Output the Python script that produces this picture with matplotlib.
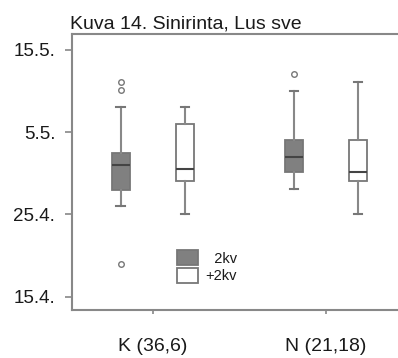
import matplotlib
matplotlib.use("Agg")
import matplotlib.pyplot as plt
from matplotlib.patches import Patch

plt.rcParams["font.family"] = ["Liberation Sans", "DejaVu Sans"]

# saapumispäivät päivinä vuoden alusta (15.4. = 105)
groups = ["K (36,6)", "N (21,18)"]
series = ["2kv", "+2kv"]
day_ticks = [105, 115, 125, 135]
day_labels = ["15.4.", "25.4.", "5.5.", "15.5."]

# K 2kv, K +2kv, N 2kv, N +2kv
whislo = [116.0, 115.0, 118.1, 115.0]
q1 = [118.0, 119.0, 120.1, 119.0]
med = [121.0, 120.5, 122.0, 120.1]
q3 = [122.5, 126.0, 124.0, 124.0]
whishi = [128.0, 128.0, 130.0, 131.1]
fliers = [[109.0, 130.1, 131.1], [], [132.0], []]

fills = ["#808080", "white"]
line_c = "#888888"
text_c = "#1a1a1a"

fig = plt.figure(figsize=(3.98, 3.58), dpi=100)
ax = fig.add_axes([0.181, 0.134, 0.819, 0.771])

stats = []
pos = []
for i in range(4):
    g = i // 2
    s = i % 2
    stats.append(dict(med=med[i], q1=q1[i], q3=q3[i], whislo=whislo[i],
                      whishi=whishi[i], fliers=fliers[i]))
    pos.append(g + 1 + (-0.185 if s == 0 else 0.185))

bp = ax.bxp(stats, positions=pos, widths=0.104, patch_artist=True,
            capwidths=0.05, manage_ticks=False,
            whiskerprops=dict(color=line_c, linewidth=1.5),
            capprops=dict(color="#777777", linewidth=1.5),
            medianprops=dict(color="#444444", linewidth=1.5),
            flierprops=dict(marker="o", markersize=4, markerfacecolor="none",
                            markeredgecolor="#777777", markeredgewidth=1.0))
for i, box in enumerate(bp["boxes"]):
    box.set_facecolor(fills[i % 2])
    box.set_edgecolor("#777777")
    box.set_linewidth(1.3)

ax.set_xlim(0.534, 2.415)
ax.set_ylim(103.4, 136.9)
ax.set_xticks([1, 2])
ax.set_xticklabels(groups, fontsize=14, color=text_c)
ax.set_yticks(day_ticks)
ax.set_yticklabels(day_labels, fontsize=13.5, color=text_c)
ax.tick_params(axis="x", length=3, pad=17, color=line_c, width=1.2)
ax.tick_params(axis="y", length=5, pad=7, color=line_c, width=1.2)
ax.spines["right"].set_visible(False)
for sp in ["left", "top", "bottom"]:
    ax.spines[sp].set_color(line_c)
    ax.spines[sp].set_linewidth(1.5)

fig.text(0.176, 0.921, "Kuva 14. Sinirinta, Lus sve", fontsize=14,
         color=text_c, va="baseline", ha="left")

handles = [Patch(facecolor=fills[0], edgecolor="#777777", linewidth=1.3),
           Patch(facecolor=fills[1], edgecolor="#777777", linewidth=1.3)]
leg = ax.legend(handles, ["  2kv", "+2kv"], loc="upper left",
                bbox_to_anchor=(0.305, 0.238), frameon=False, fontsize=10.5,
                handlelength=1.45, handleheight=1.2, handletextpad=0.5,
                labelspacing=0.15, borderaxespad=0)
for t in leg.get_texts():
    t.set_color(text_c)

fig.savefig("out.png", dpi=100)
